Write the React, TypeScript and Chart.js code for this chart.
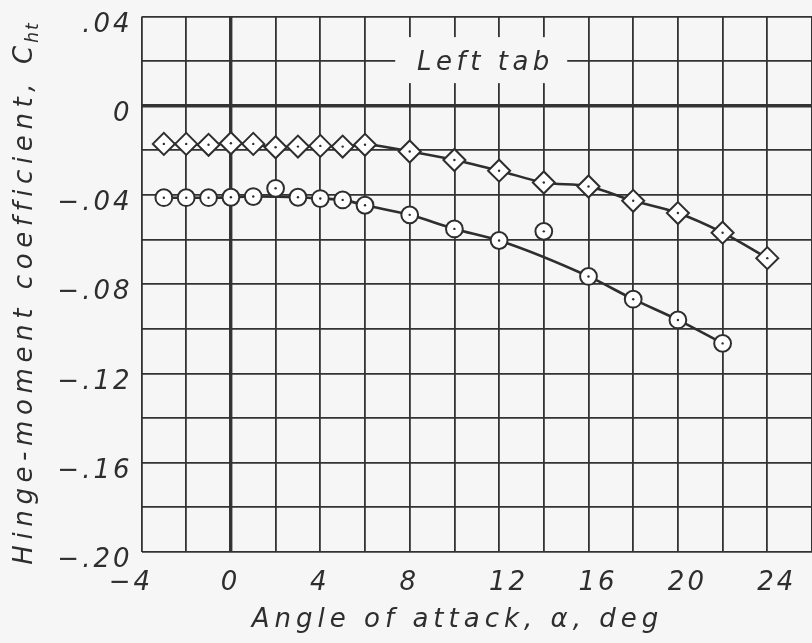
import { useEffect, useRef } from 'react';
import { Chart, registerables } from 'chart.js';

Chart.register(...registerables);

// ---- axis ranges & ticks ----
const X_MIN = -4;
const X_MAX = 26;
const X_STEP = 2;
const Y_MIN = -0.2;
const Y_MAX = 0.04;
const Y_STEP = 0.02;
const X_TICK_VALUES = [-4, 0, 4, 8, 12, 16, 20, 24];
const X_TICK_TEXT = ['−4', '0', '4', '8', '12', '16', '20', '24'];
const Y_TICK_VALUES = [0.04, 0, -0.04, -0.08, -0.12, -0.16, -0.2];
const Y_TICK_TEXT = ['.04', '0', '−.04', '−.08', '−.12', '−.16', '−.20'];

// ---- series: diamonds ----
const DIAMOND_ALPHA = [-3, -2, -1, 0, 1, 2, 3, 4, 5, 6, 8, 10, 12, 14, 16, 18, 20, 22, 24];
const DIAMOND_CH = [
  -0.0171, -0.0171, -0.0175, -0.0168, -0.0171, -0.0186, -0.0183, -0.018, -0.0183, -0.0175,
  -0.0205, -0.0243, -0.0291, -0.0344, -0.0362, -0.0426, -0.0481, -0.0569, -0.0683,
];

// ---- series: circles ----
const CIRCLE_ALPHA = [-3, -2, -1, 0, 1, 2, 3, 4, 5, 6, 8, 10, 12, 14, 16, 18, 20, 22];
const CIRCLE_CH = [
  -0.0412, -0.0412, -0.0412, -0.041, -0.0407, -0.037, -0.041, -0.0416, -0.0422, -0.0446,
  -0.0489, -0.0552, -0.0604, -0.0563, -0.0765, -0.0867, -0.096, -0.1065,
];
// points not on the faired curve
const CIRCLE_OFF_CURVE = [2, 14];

// ---- texts ----
const X_TITLE = 'Angle of attack, α, deg';
const Y_TITLE = 'Hinge-moment coefficient, C';
const Y_TITLE_SUB = 'ht';
const NOTE_TEXT = 'Left tab';
const NOTE_X = 11.2;
const NOTE_Y = 0.02;

const BG = '#f6f6f6';
const INK = '#2e2e2e';
const FONT = '"DejaVu Sans", sans-serif';

function drawSpaced(ctx: CanvasRenderingContext2D, text: string, x: number, y: number, spacing: number, align: 'left' | 'center' | 'right') {
  const chars = Array.from(text);
  const widths = chars.map((c) => ctx.measureText(c).width);
  const total = widths.reduce((a, b) => a + b, 0) + spacing * (chars.length - 1);
  let cx = align === 'left' ? x : align === 'center' ? x - total / 2 : x - total;
  ctx.textAlign = 'left';
  chars.forEach((c, i) => {
    ctx.fillText(c, cx, y);
    cx += widths[i] + spacing;
  });
  return total;
}

function spacedWidth(ctx: CanvasRenderingContext2D, text: string, spacing: number) {
  const chars = Array.from(text);
  return chars.reduce((a, c) => a + ctx.measureText(c).width, 0) + spacing * (chars.length - 1);
}

const decorPlugin = {
  id: 'decor',
  beforeDraw(chart: any) {
    const { ctx, width, height } = chart;
    ctx.save();
    ctx.fillStyle = BG;
    ctx.fillRect(0, 0, width, height);
    ctx.restore();
  },
  beforeDatasetsDraw(chart: any) {
    const { ctx, scales } = chart;
    const cx = scales.x.getPixelForValue(NOTE_X);
    const cy = scales.y.getPixelForValue(NOTE_Y);
    ctx.save();
    ctx.fillStyle = BG;
    ctx.fillRect(cx - 86, cy - 24, 172, 46);
    ctx.fillStyle = INK;
    ctx.font = `italic 26px ${FONT}`;
    ctx.textBaseline = 'alphabetic';
    drawSpaced(ctx, NOTE_TEXT, cx + 2, cy + 9, 4.5, 'center');
    ctx.restore();
  },
  afterDraw(chart: any) {
    const { ctx, scales, chartArea } = chart;
    ctx.save();
    ctx.fillStyle = INK;
    ctx.textBaseline = 'alphabetic';
    ctx.font = `italic 26px ${FONT}`;
    // y tick labels
    Y_TICK_VALUES.forEach((v, i) => {
      const py = scales.y.getPixelForValue(v);
      drawSpaced(ctx, Y_TICK_TEXT[i], chartArea.left - 12, py + 15, 3, 'right');
    });
    // x tick labels
    X_TICK_VALUES.forEach((v, i) => {
      const px = scales.x.getPixelForValue(v);
      const t = X_TICK_TEXT[i];
      const off = v < 0 ? -12 : t.length > 1 ? 8 : -2;
      drawSpaced(ctx, t, px + off, chartArea.bottom + 38, 3, 'center');
    });
    // x title
    drawSpaced(ctx, X_TITLE, 455, 627, 5, 'center');
    // y title (rotated)
    ctx.translate(32, 294);
    ctx.rotate(-Math.PI / 2);
    ctx.font = `italic 26px ${FONT}`;
    const mainW = spacedWidth(ctx, Y_TITLE, 5.6);
    ctx.font = `italic 17px ${FONT}`;
    const subW = spacedWidth(ctx, Y_TITLE_SUB, 2);
    const total = mainW + 3 + subW;
    ctx.font = `italic 26px ${FONT}`;
    drawSpaced(ctx, Y_TITLE, -total / 2, 0, 5.6, 'left');
    ctx.font = `italic 17px ${FONT}`;
    drawSpaced(ctx, Y_TITLE_SUB, -total / 2 + mainW + 3, 6, 2, 'left');
    ctx.restore();
  },
};

const isZero = (v: number) => Math.abs(v) < 1e-9;

export default function App() {
  const ref = useRef<HTMLCanvasElement | null>(null);
  useEffect(() => {
    document.body.style.margin = '0';
    const canvas = ref.current;
    if (!canvas) return;
    const diamonds = DIAMOND_ALPHA.map((x, i) => ({ x, y: DIAMOND_CH[i] }));
    const circles = CIRCLE_ALPHA.map((x, i) => ({ x, y: CIRCLE_CH[i] }));
    const circleCurve = circles.filter((p) => !CIRCLE_OFF_CURVE.includes(p.x));
    const lineDs = (data: any[]) => ({
      data,
      showLine: true,
      borderColor: INK,
      borderWidth: 2.6,
      pointRadius: 0,
      cubicInterpolationMode: 'monotone',
      order: 3,
    });
    const chart = new Chart(canvas, {
      type: 'scatter',
      data: {
        datasets: [
          lineDs(diamonds),
          lineDs(circleCurve),
          {
            data: diamonds,
            showLine: false,
            pointStyle: 'rectRot',
            pointRadius: 11,
            pointBackgroundColor: '#ffffff',
            pointBorderColor: INK,
            pointBorderWidth: 2,
            order: 1,
          },
          {
            data: circles,
            showLine: false,
            pointStyle: 'circle',
            pointRadius: 8.4,
            pointBackgroundColor: '#ffffff',
            pointBorderColor: INK,
            pointBorderWidth: 2,
            order: 1,
          },
          {
            data: diamonds,
            showLine: false,
            pointRadius: 1.2,
            pointBackgroundColor: INK,
            pointBorderWidth: 0,
            order: 0,
          },
          {
            data: circles,
            showLine: false,
            pointRadius: 1.2,
            pointBackgroundColor: INK,
            pointBorderWidth: 0,
            order: 0,
          },
        ] as any,
      },
      options: {
        responsive: false,
        animation: false,
        devicePixelRatio: 1,
        layout: { autoPadding: false, padding: { left: 141.5, top: 16.5, right: 0, bottom: 91 } },
        plugins: { legend: { display: false }, tooltip: { enabled: false } },
        scales: {
          x: {
            type: 'linear',
            min: X_MIN,
            max: X_MAX,
            ticks: { display: false, stepSize: X_STEP },
            grid: {
              drawTicks: false,
              color: '#333333',
              lineWidth: (c: any) => (c.tick && isZero(c.tick.value) ? 3.4 : 1.8),
            },
            border: { display: false },
          },
          y: {
            type: 'linear',
            min: Y_MIN,
            max: Y_MAX,
            ticks: { display: false, stepSize: Y_STEP },
            grid: {
              drawTicks: false,
              color: '#333333',
              lineWidth: (c: any) => (c.tick && isZero(c.tick.value) ? 3.4 : 1.8),
            },
            border: { display: false },
          },
        },
      },
      plugins: [decorPlugin],
    });
    return () => chart.destroy();
  }, []);
  return (
    <div style={{ width: 812, height: 643 }}>
      <canvas ref={ref} width={812} height={643} style={{ display: 'block', width: 812, height: 643 }} />
    </div>
  );
}
